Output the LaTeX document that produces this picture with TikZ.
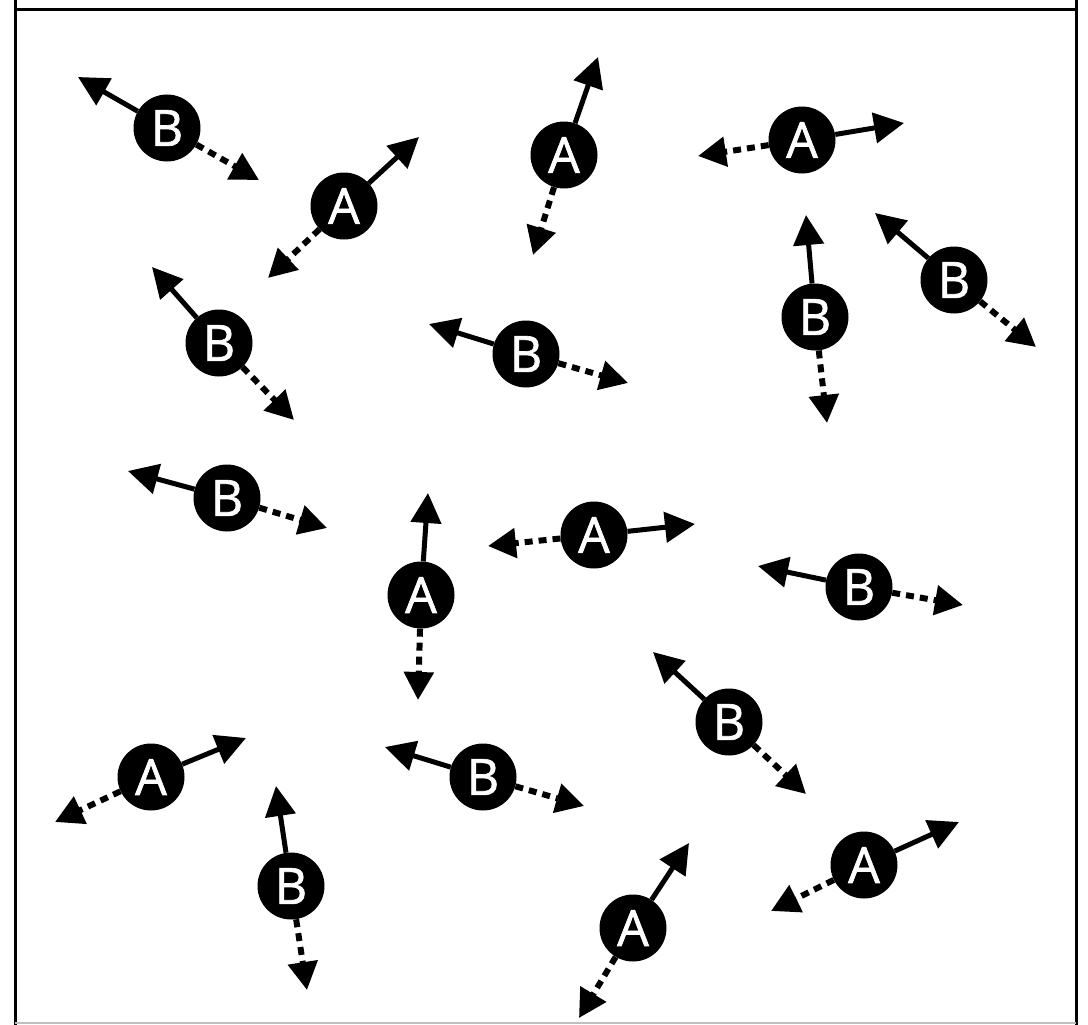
\documentclass[tikz,border=0pt]{standalone}
\usepackage{fontspec}
\newfontfamily\letterfont{Open Sans}[FakeBold=1.3]
\usetikzlibrary{arrows.meta}
\begin{document}
\begin{tikzpicture}[x=1pt,y=-1pt,
  particle/.style={circle, fill=black, minimum size=67pt, inner sep=0pt, text=white,
    font=\letterfont\fontsize{50}{50}\selectfont},
  fwd/.style={line width=5pt, -{Triangle[length=30pt,width=30pt]}},
  bwd/.style={line width=6pt, line cap=butt, dash pattern=on 8pt off 6pt,
    -{Triangle[length=28pt,width=29pt]}},
  frameline/.style={line width=3pt, black},
]
\useasboundingbox (0,0) rectangle (1088,1025);
% frame
\coordinate (fl0) at (15,0);   \coordinate (fl1) at (15,1025);
\coordinate (fr0) at (1076,0); \coordinate (fr1) at (1076,1025);
\coordinate (ft0) at (15,10);  \coordinate (ft1) at (1076,10);
\coordinate (fb0) at (15,1023); \coordinate (fb1) at (1076,1023);
\draw[frameline] (fl0) -- (fl1);
\draw[frameline] (fr0) -- (fr1);
\draw[frameline] (ft0) -- (ft1);
\draw[line width=1.5pt, black!25] (fb0) -- (fb1);

% particles: name / position / label / solid tip / dashed tip
\foreach \n/\x/\y/\l/\sx/\sy/\dx/\dy in {
  p1/167/128/B/78/77/259/180,
  p2/344/206/A/419/137/268/278,
  p3/564/155/A/598/57/533/255,
  p4/802/140/A/904/123/698/156,
  p5/219/343/B/152/267/294/420,
  p6/526/354/B/429/324/628/383,
  p7/815/317/B/806/215/827/423,
  p8/954/280/B/875/213/1036/347,
  p9/227/498/B/128/471/327/528,
  p10/594/535/A/695/524/488/546,
  p11/421/595/A/428/493/418/700,
  p12/859/587/B/758/566/963/605,
  p13/729/722/B/653/652/806/794,
  p14/151/777/A/246/738/55/822,
  p15/483/777/B/385/747/584/806,
  p16/291/886/B/276/786/307/990,
  p17/633/928/A/689/843/579/1018,
  p18/864/865/A/959/822/771/911}{
  \node[particle] (\n) at (\x,\y) {\l};
  \coordinate (\n s) at (\sx,\sy);
  \coordinate (\n d) at (\dx,\dy);
  \draw[fwd] (\n) -- (\n s);
  \draw[bwd] (\n) -- (\n d);
}
\end{tikzpicture}
\end{document}
